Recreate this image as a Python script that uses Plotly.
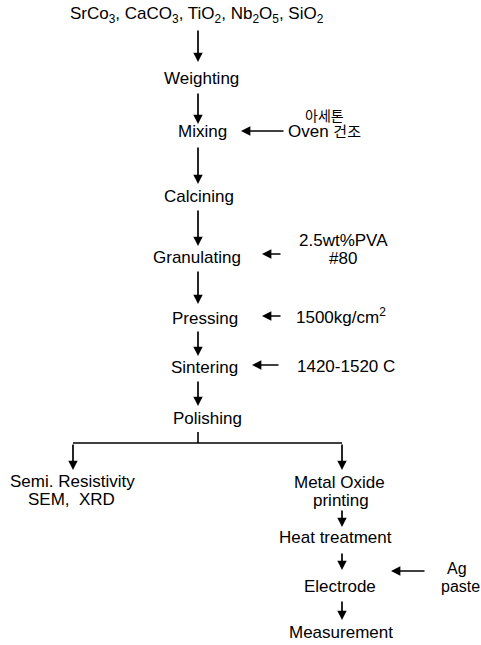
import plotly.graph_objects as go

W, H = 481, 645
FONT = "Liberation Sans, Arial, Noto Sans CJK KR"

# text labels of the flow chart
raw_materials = "SrCo<sub>3</sub>, CaCO<sub>3</sub>, TiO<sub>2</sub>, Nb<sub>2</sub>O<sub>5</sub>, SiO<sub>2</sub>"
steps = ["Weighting", "Mixing", "Calcining", "Granulating", "Pressing", "Sintering", "Polishing"]
side_inputs = ["아세톤", 'Oven <span style="font-size:15px">건조</span>',
               "2.5wt%PVA", "#80", "1500kg/cm<sup>2</sup>", "1420-1520 C"]
left_branch = ["Semi. Resistivity", "SEM,  XRD"]
right_steps = ["Metal Oxide", "printing", "Heat treatment", "Electrode", "Measurement"]
ag_input = ["Ag", "paste"]

# layout positions (pixels from the top-left corner)
step_xy = [(201, 78), (202, 131), (199, 196), (197, 257), (205, 318), (204, 367), (207, 418)]
side_xy = [(324, 116), (324, 131), (343, 240), (343, 258), (341, 316), (346, 366)]
side_size = [14, 17, 17, 17, 17, 17]
side_arrow = [(285, 241, 131), (282, 262, 254), (282, 262, 316), (280, 252, 365)]
left_xy = [(72, 481), (71, 499)]
right_xy = [(339, 482), (341, 500), (335, 537), (340, 586), (341, 632)]
ag_xy = [(457, 568), (460, 586)]

fig = go.Figure()
ann = []
shapes = []


def label(x, y, text, size=17):
    ann.append(dict(x=x, y=y, text=text, showarrow=False, xref="x", yref="y",
                    font=dict(family=FONT, size=size, color="black"), borderpad=0,
                    xanchor="center", yanchor="middle", align="center"))


def arrow(x0, y0, x1, y1):
    ann.append(dict(x=x1, y=y1, ax=x0, ay=y0, xref="x", yref="y", axref="x", ayref="y",
                    text="", showarrow=True, arrowhead=2, arrowsize=1.1, arrowwidth=1.7,
                    arrowcolor="black", standoff=0, startstandoff=0))


label(197, 15, raw_materials, 17)
for s, (x, y) in zip(steps, step_xy):
    label(x, y, s)
for s, (x, y), sz in zip(side_inputs, side_xy, side_size):
    label(x, y, s, sz)
for x0, x1, y in side_arrow:
    arrow(x0, y, x1, y)

# vertical arrows of main column
main_arrows = [(29, 62), (92, 124), (146, 184), (209, 246), (270, 304), (330, 356), (380, 406)]
for y0, y1 in main_arrows:
    arrow(198, y0, 198, y1)

# branch
shapes.append(dict(type="line", x0=198, y0=432, x1=198, y1=443, line=dict(color="black", width=1.6)))
shapes.append(dict(type="line", x0=73, y0=443, x1=342, y1=443, line=dict(color="black", width=1.6)))
arrow(73, 443, 73, 470)
arrow(342, 443, 342, 470)
for s, (x, y) in zip(left_branch, left_xy):
    label(x, y, s)

for s, (x, y) in zip(right_steps, right_xy):
    label(x, y, s)
for y0, y1 in [(509, 527), (552, 570), (600, 620)]:
    arrow(342, y0, 342, y1)

for s, (x, y) in zip(ag_input, ag_xy):
    label(x, y, s, 16)
arrow(426, 571, 391, 571)

fig.update_layout(
    width=W, height=H,
    margin=dict(l=0, r=0, t=0, b=0),
    paper_bgcolor="white", plot_bgcolor="white",
    xaxis=dict(range=[0, W], visible=False, fixedrange=True),
    yaxis=dict(range=[H, 0], visible=False, fixedrange=True),
    annotations=ann, shapes=shapes,
    showlegend=False,
)

# drop the default page margin so the figure fills the window
fig.write_html("out.html", config={"displayModeBar": False},
               post_script="document.body.style.margin='0';")
